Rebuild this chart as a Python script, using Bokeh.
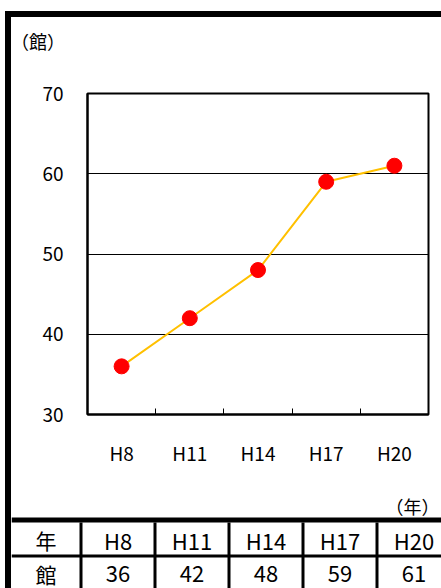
from bokeh.plotting import figure
from bokeh.models import Range1d, FixedTicker, Div
from bokeh.layouts import column, row
from bokeh.core.properties import value
from bokeh.embed import file_html
from bokeh.resources import INLINE

# ---- data ----
years = ["H8", "H11", "H14", "H17", "H20"]
counts = [36, 42, 48, 59, 61]
y_ticks = [30, 40, 50, 60, 70]
unit_label = "（館）"
year_label = "（年）"
row_headers = ["年", "館"]

FONT = "Noto Sans CJK JP"
CONTENT_W = 430

# ---- header strip with unit label ----
head = figure(width=CONTENT_W, height=43, x_range=Range1d(11, 441), y_range=Range1d(60, 17),
              output_backend="svg", toolbar_location=None, min_border=0,
              x_axis_location=None, y_axis_location=None, frame_align=False)
head.grid.visible = False
head.outline_line_color = None
head.text(x=[37.5], y=[40], text=[unit_label], text_font=value(FONT), text_font_size="18px",
          text_align="center", text_baseline="middle", text_color="black")

# ---- chart ----
p = figure(width=CONTENT_W, height=430, x_range=Range1d(0, len(years)), y_range=Range1d(30, 70),
           output_backend="svg", toolbar_location=None, frame_align=False,
           min_border_left=76, min_border_right=13, min_border_top=33, min_border_bottom=76)

xs = [i + 0.5 for i in range(len(years))]
p.line(xs, counts, line_color="#FFC000", line_width=2)
p.scatter(xs, counts, size=15, fill_color="#FF0000", line_color="#FF0000")

p.xaxis.ticker = FixedTicker(ticks=xs, minor_ticks=list(range(1, len(years))))
p.xaxis.major_label_overrides = {x: y for x, y in zip(xs, years)}
p.xaxis.major_tick_in = 0
p.xaxis.major_tick_out = 0
p.xaxis.minor_tick_in = 6
p.xaxis.minor_tick_out = 0
p.xaxis.minor_tick_line_color = "black"
p.xaxis.major_label_standoff = 24

p.yaxis.ticker = FixedTicker(ticks=y_ticks)
p.yaxis.major_tick_in = 0
p.yaxis.major_tick_out = 0
p.yaxis.minor_tick_line_color = None
p.yaxis.major_label_standoff = 24

p.axis.axis_line_width = 2
p.axis.axis_line_color = "black"
p.axis.major_label_text_font = FONT
p.axis.major_label_text_font_size = "19px"
p.axis.major_label_text_color = "black"

p.xgrid.visible = False
p.ygrid.grid_line_color = "black"
p.ygrid.grid_line_width = 1
p.ygrid.grid_line_alpha = 1

p.outline_line_color = "black"
p.outline_line_width = 2
p.outline_line_alpha = 1

# ---- table (with year unit label) ----
t = figure(width=CONTENT_W, height=98, x_range=Range1d(11, 441), y_range=Range1d(588, 490),
           output_backend="svg", toolbar_location=None, min_border=0,
           x_axis_location=None, y_axis_location=None, frame_align=False)
t.grid.visible = False
t.outline_line_color = None

t.text(x=[412], y=[505], text=[year_label], text_font=value(FONT), text_font_size="18px",
       text_align="center", text_baseline="middle", text_color="black")

first_edge, col_w = 80.5, 74
edges = [first_edge + col_w * i for i in range(len(years))]
centers = [first_edge + col_w * (i + 0.5) for i in range(len(years))]

t.quad(left=11, right=441, top=517, bottom=522, fill_color="black", line_color=None)
t.segment(x0=edges, y0=[522] * len(edges), x1=edges, y1=[588] * len(edges),
          line_color="black", line_width=3)
t.segment(x0=[11], y0=[555.5], x1=[441], y1=[555.5], line_color="black", line_width=3)

t.text(x=centers, y=[539.5] * len(years), text=years, text_font=value(FONT), text_font_size="22px",
       text_align="center", text_baseline="middle", text_color="black")
t.text(x=centers, y=[573.5] * len(years), text=[str(c) for c in counts], text_font=value(FONT),
       text_font_size="22px", text_align="center", text_baseline="middle", text_color="black")
t.text(x=[45.5, 45.5], y=[539.5, 573.5], text=row_headers, text_font=value(FONT), text_font_size="21px",
       text_align="center", text_baseline="middle", text_color="black")

# ---- frame bars ----
top_space = Div(width=441, height=11, margin=0)
left_space = Div(width=5, height=577, margin=0)
top_bar = Div(width=436, height=6, margin=0, styles={"background-color": "black"})
left_bar = Div(width=6, height=571, margin=0, styles={"background-color": "black"})

layout = column(top_space,
                row(left_space, column(top_bar, row(left_bar, column(head, p, t)))))

open("out.html", "w").write(file_html(layout, INLINE))
